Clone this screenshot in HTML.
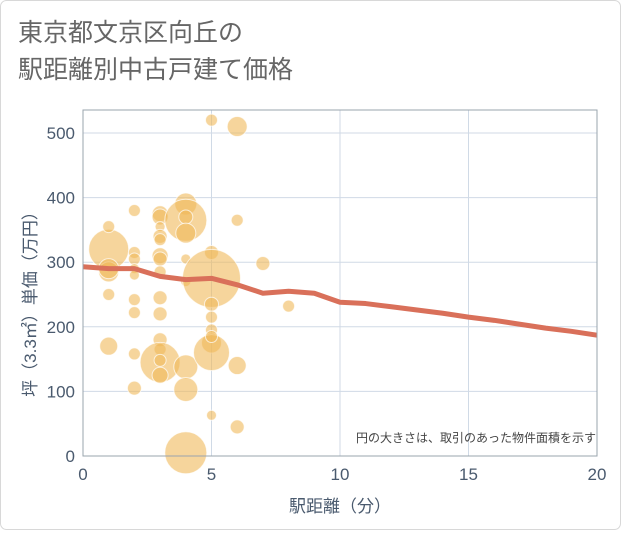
<!DOCTYPE html>
<html><head><meta charset="utf-8"><style>
body{margin:0;background:#fff;}
svg text{font-family:"Liberation Sans","Noto Sans CJK JP",sans-serif;}
</style></head><body>
<svg width="621" height="530" xmlns="http://www.w3.org/2000/svg">
<rect x="0.5" y="0.5" width="620" height="529" rx="6" fill="#fff" stroke="#d8d8d8"/>
<text x="18" y="41" font-size="25" fill="#666">東京都文京区向丘の</text>
<text x="18" y="78" font-size="25" fill="#666">駅距離別中古戸建て価格</text>
<g id="grid"></g>
<g id="bubbles"></g>
<g id="line"></g>
<g id="axes"></g>
<text x="596" y="442" font-size="12" fill="#444" text-anchor="end">円の大きさは、取引のあった物件面積を示す</text>
<text x="340" y="512" font-size="17" fill="#4a5a6e" text-anchor="middle">駅距離（分）</text>
<text transform="translate(36,300) rotate(-90)" font-size="17" fill="#4a5a6e" text-anchor="middle">坪（3.3㎡）単価（万円）</text>
</svg>
<script>
const xTicks=[0,5,10,15,20];
const yTicks=[0,100,200,300,400,500];
const bubbleX=[1,1,1,1,1,1, 2,2,2,2,2,2,2,2,2, 3,3,3,3,3,3,3,3,3,3,3,3,3,3,3, 4,4,4,4,4,4,4,4,4, 5,5,5,5,5,5,5,5,5,5, 6,6,6,6, 7,8];
const bubbleY=[320,355,285,250,170,290, 380,315,305,290,280,242,222,158,105, 375,370,355,340,335,310,305,285,245,220,180,165,145,125,148, 390,365,370,345,305,270,138,103,5, 520,315,275,235,215,195,175,160,185,63, 510,365,140,45, 298,232];
const bubbleR=[20,6,10,6,9,10, 6,6,6,5,5,6,6,6,7, 8,8,5,7,6,8,7,6,7,7,7,6,20,8,6, 11,21,7,10,5,5,12,12,21, 6,7,29,7,6,6,10,18,6,5, 10,6,9,7, 7,6];
const lineX=[0,1,2,3,4,5,6,7,8,9,10,11,12,13,14,15,16,17,18,19,20];
const lineY=[293,290,290,278,273,275,265,252,255,252,238,236,231,226,221,215,210,204,198,193,187];
const X0=83,X1=597,Y0=456,Y1=133,TOP=110;
const sx=v=>X0+(X1-X0)*v/20, sy=v=>Y0-(Y0-Y1)*v/500;
const NS='http://www.w3.org/2000/svg';
function mk(t,a,p){const e=document.createElementNS(NS,t);for(const k in a)e.setAttribute(k,a[k]);p.appendChild(e);return e;}
const g=document.getElementById('grid'),ax=document.getElementById('axes');
xTicks.forEach(v=>{const l=mk('line',{x1:sx(v),x2:sx(v),y1:TOP,y2:Y0,stroke:'#d0dae6'},g);


const t=mk('text',{x:sx(v),y:Y0+24,'font-size':17,fill:'#4a5a6e','text-anchor':'middle'},ax);t.textContent=v;

});
yTicks.forEach(v=>{const l=mk('line',{x1:X0,x2:X1,y1:sy(v),y2:sy(v),stroke:'#d0dae6'},g);


const t=mk('text',{x:X0-8,y:sy(v)+6,'font-size':17,fill:'#4a5a6e','text-anchor':'end'},ax);t.textContent=v;

});
const fr=mk('rect',{x:X0,y:TOP,width:X1-X0,height:Y0-TOP,fill:'none',stroke:'#9aa4ae'},ax);


const b=document.getElementById('bubbles');
bubbleX.forEach((v,i)=>{const c=mk('circle',{cx:sx(v),cy:sy(bubbleY[i]),r:bubbleR[i],fill:'rgba(240,185,90,0.6)',stroke:'rgba(255,255,255,0.7)','stroke-width':1},b);

});
const p=mk('polyline',{points:lineX.map((v,i)=>sx(v)+','+sy(lineY[i])).join(' '),fill:'none',stroke:'#d9705a','stroke-width':5,'stroke-linejoin':'round'},document.getElementById('line'));


</script>
</body></html>
